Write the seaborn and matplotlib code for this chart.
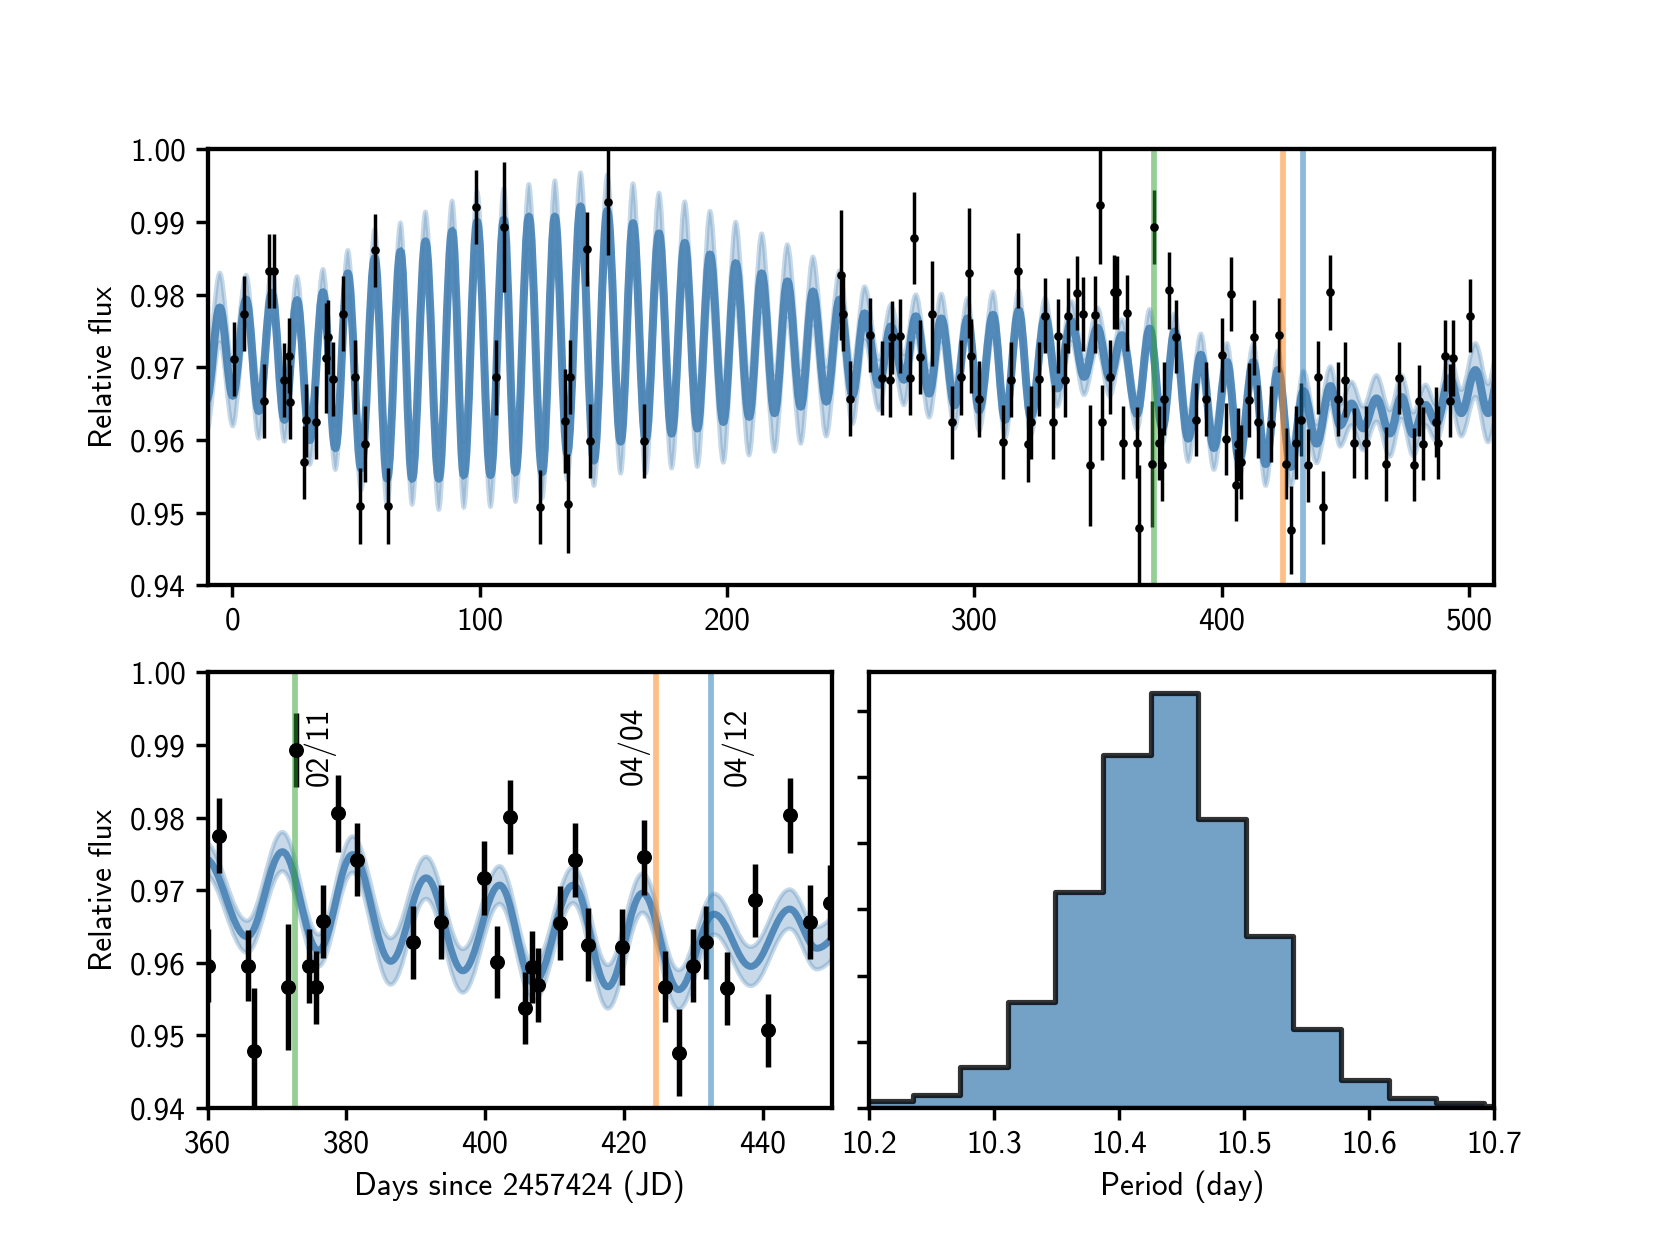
import numpy as np
import matplotlib
matplotlib.use("Agg")
import matplotlib.pyplot as plt
from matplotlib.path import Path
from matplotlib.patches import PathPatch
import seaborn as sns

# observations: day since 2457424 (JD), relative flux, error
obs_day = [0.75, 4.93, 12.89, 14.77, 16.93, 20.97, 22.86, 23.53, 28.93, 29.87,
           33.78, 37.96, 38.9, 40.79, 44.83, 49.82, 51.84, 53.46, 57.64, 62.76,
           98.61, 106.7, 109.66, 124.49, 134.6, 135.54, 136.49, 143.5, 144.44, 151.85,
           166.5, 245.9, 247.0, 249.8, 257.8, 262.8, 265.9, 266.6, 269.9, 273.8,
           275.7, 277.9, 282.7, 290.8, 294.7, 297.7, 298.8, 301.7, 311.7, 314.9,
           317.6, 321.7, 322.8, 325.9, 328.7, 331.7, 333.8, 336.6, 337.9, 341.6,
           343.7, 346.6, 348.9, 350.7, 351.7, 354.7, 356.3, 357.5, 360.0, 361.6,
           365.8, 366.7, 371.6, 372.7, 374.6, 375.7, 376.6, 378.75, 381.6, 389.6,
           393.6, 399.9, 401.7, 403.65, 405.7, 406.7, 407.7, 410.8, 412.9, 414.8,
           419.7, 422.95, 425.9, 427.9, 429.9, 431.8, 434.9, 438.9, 440.8, 443.9,
           446.8, 449.7, 453.5, 458.2, 466.4, 471.5, 477.5, 479.5, 481.5, 486.5,
           487.4, 490.2, 492.3, 493.5, 500.4]
obs_flux = [0.9712, 0.9774, 0.9653, 0.9833, 0.9833, 0.9683, 0.9716, 0.9652, 0.9569, 0.9627,
            0.9624, 0.9713, 0.9742, 0.9684, 0.9774, 0.9686, 0.9509, 0.9594, 0.9861, 0.9509,
            0.9921, 0.9686, 0.9893, 0.9507, 0.9626, 0.9512, 0.9686, 0.9863, 0.9598, 0.9927,
            0.9598, 0.9827, 0.9774, 0.9657, 0.9745, 0.9685, 0.9683, 0.9741, 0.9743, 0.9685,
            0.9878, 0.9714, 0.9774, 0.9624, 0.9686, 0.9830, 0.9716, 0.9656, 0.9597, 0.9683,
            0.9833, 0.9594, 0.9624, 0.9684, 0.9771, 0.9625, 0.9743, 0.9683, 0.9771, 0.9802,
            0.9773, 0.9565, 0.9772, 0.9924, 0.9624, 0.9686, 0.9804, 0.9803, 0.9596, 0.9775,
            0.9596, 0.9479, 0.9567, 0.9893, 0.9596, 0.9566, 0.9657, 0.9806, 0.9742, 0.9628,
            0.9656, 0.9717, 0.9601, 0.9801, 0.9538, 0.9594, 0.9570, 0.9655, 0.9741, 0.9625,
            0.9622, 0.9745, 0.9567, 0.9476, 0.9596, 0.9628, 0.9565, 0.9686, 0.9507, 0.9803,
            0.9656, 0.9683, 0.9596, 0.9596, 0.9567, 0.9685, 0.9566, 0.9654, 0.9595, 0.9625,
            0.9596, 0.9716, 0.9654, 0.9713, 0.9771]
obs_err = [0.0051, 0.0051, 0.0051, 0.0051, 0.0051, 0.0051, 0.0052, 0.0051, 0.0050, 0.0050,
           0.0050, 0.0076, 0.0051, 0.0051, 0.0051, 0.0051, 0.0052, 0.0052, 0.0050, 0.0052,
           0.0051, 0.0052, 0.0089, 0.0051, 0.0072, 0.0068, 0.0051, 0.0051, 0.0051, 0.0072,
           0.0051, 0.0089, 0.0052, 0.0051, 0.0051, 0.0051, 0.0052, 0.0050, 0.0051, 0.0051,
           0.0063, 0.0051, 0.0072, 0.0050, 0.0052, 0.0090, 0.0051, 0.0052, 0.0051, 0.0052,
           0.0052, 0.0052, 0.0050, 0.0051, 0.0052, 0.0051, 0.0051, 0.0051, 0.0052, 0.0051,
           0.0051, 0.0083, 0.0053, 0.0082, 0.0052, 0.0051, 0.0051, 0.0050, 0.0050, 0.0052,
           0.0049, 0.0086, 0.0087, 0.0051, 0.0051, 0.0050, 0.0050, 0.0053, 0.0050, 0.0050,
           0.0051, 0.0051, 0.0050, 0.0051, 0.0050, 0.0050, 0.0051, 0.0051, 0.0051, 0.0050,
           0.0052, 0.0051, 0.0049, 0.0060, 0.0050, 0.0050, 0.0050, 0.0050, 0.0050, 0.0052,
           0.0051, 0.0052, 0.0048, 0.0050, 0.0051, 0.0050, 0.0050, 0.0049, 0.0050, 0.0048,
           0.0050, 0.0049, 0.0050, 0.0052, 0.0050]

# GP prediction, read at its successive maxima and minima
ext_day = [-10.4, -5.04, 0.2, 5.6, 10.7, 16.0, 21.1, 26.2, 31.35, 36.7,
           41.7, 46.7, 52.1, 57.6, 62.6, 68.0, 72.7, 78.1, 83.5, 88.9,
           93.6, 99.0, 104.4, 109.8, 114.5, 119.9, 125.3, 130.4, 135.4, 140.8,
           146.2, 151.6, 157.0, 162.0, 167.1, 172.5, 177.6, 182.9, 188.0, 193.1,
           198.5, 203.5, 208.9, 214.0, 219.2, 224.4, 229.8, 234.7, 240.1, 245.5,
           250.7, 255.6, 261.4, 266.2, 271.5, 276.3, 281.7, 286.6, 292.0, 297.2,
           301.9, 307.5, 312.4, 317.9, 322.8, 328.6, 333.5, 339.2, 344.3, 349.7,
           354.7, 359.6, 365.7, 370.8, 376.0, 380.9, 386.4, 391.5, 396.8, 402.1,
           407.0, 412.7, 417.7, 422.7, 427.9, 433.0, 438.3, 443.9, 447.8, 452.4,
           457.1, 462.5, 467.9, 472.6, 477.3, 482.3, 486.7, 492.1, 496.8, 502.5,
           507.6, 512.6]
ext_flux = [0.9655, 0.9782, 0.9661, 0.9793, 0.9640, 0.9802, 0.9628, 0.9792, 0.9600, 0.9803,
            0.9589, 0.9829, 0.9561, 0.9850, 0.9547, 0.9859, 0.9547, 0.9873, 0.9547, 0.9887,
            0.9552, 0.9900, 0.9552, 0.9903, 0.9556, 0.9907, 0.9556, 0.9907, 0.9582, 0.9921,
            0.9572, 0.9915, 0.9598, 0.9898, 0.9600, 0.9884, 0.9609, 0.9871, 0.9616, 0.9855,
            0.9625, 0.9843, 0.9632, 0.9829, 0.9637, 0.9818, 0.9646, 0.9804, 0.9653, 0.9793,
            0.9662, 0.9774, 0.9676, 0.9756, 0.9683, 0.9770, 0.9664, 0.9767, 0.9648, 0.9767,
            0.9641, 0.9772, 0.9628, 0.9778, 0.9632, 0.9770, 0.9671, 0.9763, 0.9687, 0.9754,
            0.9685, 0.9744, 0.9636, 0.9753, 0.9617, 0.9749, 0.9602, 0.9717, 0.9589, 0.9707,
            0.9572, 0.9707, 0.9567, 0.9696, 0.9563, 0.9667, 0.9595, 0.9674, 0.9620, 0.9650,
            0.9616, 0.9657, 0.9609, 0.9659, 0.9608, 0.9648, 0.9623, 0.9685, 0.9637, 0.9696,
            0.9637, 0.9700]
ext_sd = [0.0045, 0.0048, 0.0042, 0.0034, 0.0038, 0.0032, 0.0030, 0.0033, 0.0034, 0.0032,
          0.0030, 0.0032, 0.0030, 0.0040, 0.0038, 0.0040, 0.0036, 0.0041, 0.0043, 0.0042,
          0.0045, 0.0042, 0.0044, 0.0043, 0.0041, 0.0045, 0.0036, 0.0050, 0.0037, 0.0047,
          0.0035, 0.0050, 0.0044, 0.0055, 0.0046, 0.0056, 0.0048, 0.0057, 0.0053, 0.0060,
          0.0056, 0.0057, 0.0053, 0.0055, 0.0053, 0.0051, 0.0051, 0.0048, 0.0048, 0.0040,
          0.0040, 0.0037, 0.0035, 0.0030, 0.0035, 0.0030, 0.0033, 0.0034, 0.0032, 0.0028,
          0.0028, 0.0032, 0.0025, 0.0028, 0.0025, 0.0025, 0.0025, 0.0028, 0.0025, 0.0028,
          0.0025, 0.0022, 0.0022, 0.0027, 0.0022, 0.0025, 0.0032, 0.0029, 0.0030, 0.0026,
          0.0025, 0.0025, 0.0030, 0.0027, 0.0027, 0.0028, 0.0027, 0.0027, 0.0029, 0.0030,
          0.0030, 0.0032, 0.0032, 0.0030, 0.0030, 0.0028, 0.0025, 0.0030, 0.0032, 0.0037,
          0.0040, 0.0045]

# observation dates marked in the zoom
event_day = [372.6, 424.6, 432.6]
event_label = ["02/11", "04/04", "04/12"]
event_color = ["tab:green", "tab:orange", "tab:blue"]

# posterior of the rotation period (density per bin)
period_edges = [10.1966, 10.2347, 10.2728, 10.3106, 10.3487, 10.3871, 10.4252, 10.4633,
                10.5011, 10.5392, 10.5773, 10.6157, 10.6538, 10.6919, 10.7300]
period_density = [0.114, 0.195, 0.622, 1.595, 3.27, 5.335, 6.27, 4.368, 2.605, 1.189,
                  0.422, 0.151, 0.081, 0.03]

sns.set_style("ticks")
plt.rcParams["font.family"] = ["cmss10", "DejaVu Sans"]
plt.rcParams["axes.unicode_minus"] = False
plt.rcParams["font.size"] = 10.9
plt.rcParams["axes.linewidth"] = 1.5
plt.rcParams["axes.edgecolor"] = "k"
plt.rcParams["xtick.color"] = "k"
plt.rcParams["ytick.color"] = "k"
plt.rcParams["text.color"] = "k"
plt.rcParams["axes.labelcolor"] = "k"
plt.rcParams["xtick.major.size"] = 4
plt.rcParams["ytick.major.size"] = 4
plt.rcParams["xtick.major.width"] = 1.2
plt.rcParams["ytick.major.width"] = 1.2


def bezier(t, v, a=0.3634):
    # smooth curve through the extrema with flat tangents at each one
    verts = [(t[0], v[0])]
    for i in range(len(t) - 1):
        dt = t[i + 1] - t[i]
        verts += [(t[i] + a * dt, v[i]), (t[i + 1] - a * dt, v[i + 1]), (t[i + 1], v[i + 1])]
    return verts


def draw_gp(ax, lw):
    t = np.array(ext_day)
    m = np.array(ext_flux)
    s = np.array(ext_sd)
    up = bezier(t, m + s)
    lo = bezier(t, m - s)
    nseg = 3 * (len(t) - 1)
    band = Path(up + lo[::-1] + [up[0]],
                [Path.MOVETO] + [Path.CURVE4] * nseg + [Path.LINETO] + [Path.CURVE4] * nseg + [Path.CLOSEPOLY])
    ax.add_patch(PathPatch(band, facecolor="steelblue", edgecolor="none", alpha=0.3, zorder=1))
    codes = [Path.MOVETO] + [Path.CURVE4] * nseg
    for edge in (up, lo):
        ax.add_patch(PathPatch(Path(edge, codes), fill=False, edgecolor="steelblue",
                               alpha=0.3, lw=1.5, zorder=1.1))
    ax.add_patch(PathPatch(Path(bezier(t, m), codes), fill=False, edgecolor="steelblue",
                           alpha=0.9, lw=lw, zorder=1.2, capstyle="round"))


def draw_obs(ax, elw, ms):
    ax.errorbar(obs_day, obs_flux, yerr=obs_err, fmt="none", ecolor="k", elinewidth=elw,
                capsize=0, zorder=2)
    for d, c in zip(event_day, event_color):
        ax.axvline(d, color=c, alpha=0.5, lw=2, zorder=2.5)
    sns.scatterplot(x=obs_day, y=obs_flux, ax=ax, color="k", s=ms ** 2, linewidth=0, zorder=3)


fig = plt.figure(figsize=(8, 6), dpi=207.5)
gs = fig.add_gridspec(2, 2, left=0.125, right=0.9, top=0.88, bottom=0.11, hspace=0.2, wspace=0.06)
ax1 = fig.add_subplot(gs[0, :])
ax2 = fig.add_subplot(gs[1, 0])
ax3 = fig.add_subplot(gs[1, 1])

# full light curve
draw_gp(ax1, 2.8)
draw_obs(ax1, 1.2, 3)
ax1.set_xlim(-10, 510)
ax1.set_ylim(0.94, 1.0)
ax1.set_yticks(np.arange(0.94, 1.001, 0.01))
ax1.set_ylabel("Relative flux")

# zoom on the observing window
draw_gp(ax2, 2.4)
draw_obs(ax2, 1.9, 5.2)
offsets = [3.5, -3.2, 3.8]
for d, lab, off in zip(event_day, event_label, offsets):
    ax2.text(d + off, 0.9952, lab, rotation=90, ha="center", va="top")
ax2.set_xlim(360, 450)
ax2.set_ylim(0.94, 1.0)
ax2.set_yticks(np.arange(0.94, 1.001, 0.01))
ax2.set_xticks(np.arange(360, 441, 20))
ax2.set_xlabel("Days since 2457424 (JD)")
ax2.set_ylabel("Relative flux")

# period posterior
centers = [(a + b) / 2 for a, b in zip(period_edges[:-1], period_edges[1:])]
sns.histplot(x=centers, weights=period_density, bins=period_edges, element="step", fill=True,
             color="steelblue", alpha=0.75, edgecolor=(0, 0, 0, 0.8), linewidth=1.8, ax=ax3)
ax3.set_xlim(10.2, 10.7)
ax3.set_yticks(np.arange(0, 7))
ax3.set_yticklabels([])
ax3.set_ylabel("")
ax3.set_xlabel("Period (day)")

fig.savefig("out.png", dpi=207.5)
